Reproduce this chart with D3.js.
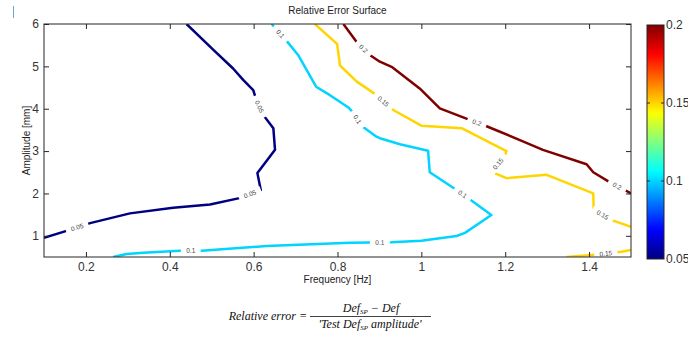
<!DOCTYPE html>
<html>
<head>
<meta charset="utf-8">
<script src="https://cdn.jsdelivr.net/npm/d3@7"></script>
<style>
  body { margin: 0; background: #fff; }
  svg { display: block; font-family: "Liberation Sans", Arial, sans-serif; }
</style>
</head>
<body>
<svg id="chart" width="688" height="338"></svg>
<script>
// Contour levels of the relative error surface
const levels = [0.05, 0.1, 0.15, 0.2];

// Axis ticks
const freqTicks = [0.2, 0.4, 0.6, 0.8, 1.0, 1.2, 1.4];
const ampTicks = [1, 2, 3, 4, 5, 6];
const barTicks = [0.05, 0.1, 0.15, 0.2];

// Contour polylines: [frequency (Hz), amplitude (mm)]
const contour005 = [
  [0.44, 6.0], [0.504, 5.39], [0.551, 4.95], [0.575, 4.68], [0.599, 4.44],
  [0.605, 4.25], [0.623, 3.85], [0.647, 3.54], [0.651, 3.03], [0.609, 2.48],
  [0.617, 2.08], [0.566, 1.89], [0.496, 1.74], [0.408, 1.66], [0.305, 1.53],
  [0.21, 1.30], [0.148, 1.10], [0.1, 0.955]
];
const contour010 = [
  [0.265, 0.5], [0.297, 0.57], [0.337, 0.60], [0.424, 0.648], [0.476, 0.648],
  [0.631, 0.759], [0.83, 0.837], [0.929, 0.847], [1.0, 0.885], [1.084, 0.995],
  [1.104, 1.07], [1.167, 1.49], [1.112, 1.885], [1.084, 2.08], [1.02, 2.5],
  [1.016, 3.01], [0.949, 3.16], [0.905, 3.29], [0.893, 3.34], [0.858, 3.59],
  [0.837, 3.91], [0.826, 4.03], [0.782, 4.32], [0.749, 4.52], [0.706, 5.27],
  [0.682, 5.56], [0.643, 6.0]
];
const contour015Upper = [
  [0.746, 6.0], [0.799, 5.53], [0.806, 5.02], [0.846, 4.64], [0.889, 4.35],
  [0.933, 3.97], [1.0, 3.60], [1.096, 3.54], [1.203, 3.0], [1.199, 2.89],
  [1.167, 2.51], [1.203, 2.36], [1.299, 2.44], [1.41, 2.0], [1.411, 1.61],
  [1.454, 1.37], [1.5, 1.21]
];
const contour015Lower = [
  [1.346, 0.5], [1.406, 0.547], [1.477, 0.625], [1.5, 0.665]
];
const contour020 = [
  [0.814, 6.0], [0.847, 5.56], [0.877, 5.27], [0.901, 5.11], [0.929, 4.99],
  [0.996, 4.48], [1.044, 4.01], [1.109, 3.76], [1.157, 3.58], [1.235, 3.26],
  [1.29, 3.03], [1.394, 2.69], [1.41, 2.5], [1.445, 2.29], [1.489, 2.06],
  [1.5, 2.0]
];

// Inline contour label positions
const labels005 = [[0.614, 4.05], [0.591, 1.99], [0.179, 1.20]];
const labels010 = [[0.45, 0.648], [0.901, 0.84], [1.098, 1.98], [0.848, 3.75], [0.664, 5.77]];
const labels015Upper = [[0.908, 4.16], [1.183, 2.70], [1.432, 1.49]];
const labels015Lower = [[1.44, 0.585]];
const labels020 = [[0.86, 5.40], [1.132, 3.66], [1.466, 2.16]];

const contours = [
  { level: levels[0], points: contour005, labels: labels005 },
  { level: levels[1], points: contour010, labels: labels010 },
  { level: levels[2], points: contour015Upper, labels: labels015Upper },
  { level: levels[2], points: contour015Lower, labels: labels015Lower },
  { level: levels[3], points: contour020, labels: labels020 }
];

const svg = d3.select("#chart");
const plot = { left: 44, right: 631, top: 24, bottom: 257 };
const axisColor = "#262626";
const fmt = d => String(+d.toFixed(3));

const x = d3.scaleLinear().domain([0.1, 1.5]).range([plot.left, plot.right]);
const y = d3.scaleLinear().domain([0.5, 6]).range([plot.bottom, plot.top]);
const cDomain = [0.05, 0.2];

// MATLAB-style jet colormap
function jet(t) {
  const c = v => Math.max(0, Math.min(1, v));
  return d3.rgb(
    Math.round(255 * c(1.5 - Math.abs(4 * t - 3))),
    Math.round(255 * c(1.5 - Math.abs(4 * t - 2))),
    Math.round(255 * c(1.5 - Math.abs(4 * t - 1)))
  ).formatHex();
}
const colorOf = v => jet((v - cDomain[0]) / (cDomain[1] - cDomain[0]));

// Small cursor mark at the top left
svg.append("line")
  .attr("x1", 13.5).attr("x2", 13.5).attr("y1", 6).attr("y2", 18)
  .attr("stroke", "#6aa6e0").attr("stroke-width", 1);

// Title
svg.append("text")
  .attr("x", (plot.left + plot.right) / 2).attr("y", 14)
  .attr("text-anchor", "middle").attr("font-size", 10).attr("fill", "#222")
  .text("Relative Error Surface");

// Clip for the contour area
const defs = svg.append("defs");
defs.append("clipPath").attr("id", "plotClip")
  .append("rect")
  .attr("x", plot.left).attr("y", plot.top)
  .attr("width", plot.right - plot.left).attr("height", plot.bottom - plot.top);

const g = svg.append("g").attr("clip-path", "url(#plotClip)");
const line = d3.line().x(d => x(d[0])).y(d => y(d[1]));

// Nearest point on a polyline (pixel space) and local direction
function project(pts, p) {
  let best = null;
  for (let i = 0; i < pts.length - 1; i++) {
    const ax = x(pts[i][0]), ay = y(pts[i][1]);
    const bx = x(pts[i + 1][0]), by = y(pts[i + 1][1]);
    const dx = bx - ax, dy = by - ay;
    const len2 = dx * dx + dy * dy;
    let t = ((p[0] - ax) * dx + (p[1] - ay) * dy) / len2;
    t = Math.max(0, Math.min(1, t));
    const qx = ax + t * dx, qy = ay + t * dy;
    const d = (qx - p[0]) ** 2 + (qy - p[1]) ** 2;
    if (!best || d < best.d) {
      let ang = Math.atan2(dy, dx) * 180 / Math.PI;
      if (ang > 90) ang -= 180;
      if (ang < -90) ang += 180;
      best = { d, x: qx, y: qy, ang };
    }
  }
  return best;
}

contours.forEach(c => {
  const col = colorOf(c.level);
  g.append("path")
    .attr("d", line(c.points))
    .attr("fill", "none")
    .attr("stroke", col)
    .attr("stroke-width", 2.5)
    .attr("stroke-linejoin", "round");

  c.labels.forEach(lp => {
    const q = project(c.points, [x(lp[0]), y(lp[1])]);
    const lg = g.append("g")
      .attr("transform", `translate(${q.x},${q.y}) rotate(${q.ang})`);
    const txt = fmt(c.level);
    const gap = txt.length * 3.6 + 9;
    lg.append("rect")
      .attr("x", -gap / 2).attr("y", -4)
      .attr("width", gap).attr("height", 8)
      .attr("fill", "#fff");
    lg.append("text")
      .attr("text-anchor", "middle").attr("dy", "0.35em")
      .attr("font-size", 6.5).attr("fill", "#444")
      .text(txt);
  });
});

// Axes (inward ticks on all four sides)
const tickLen = 5;
svg.append("g")
  .attr("transform", `translate(0,${plot.bottom})`)
  .call(d3.axisBottom(x).tickValues(freqTicks).tickFormat(fmt)
    .tickSizeInner(-tickLen).tickSizeOuter(0).tickPadding(5))
  .call(a => a.select(".domain").remove());
svg.append("g")
  .attr("transform", `translate(0,${plot.top})`)
  .call(d3.axisTop(x).tickValues(freqTicks).tickFormat("")
    .tickSizeInner(-tickLen).tickSizeOuter(0))
  .call(a => a.select(".domain").remove());
svg.append("g")
  .attr("transform", `translate(${plot.left},0)`)
  .call(d3.axisLeft(y).tickValues(ampTicks).tickFormat(fmt)
    .tickSizeInner(-tickLen).tickSizeOuter(0).tickPadding(5))
  .call(a => a.select(".domain").remove());
svg.append("g")
  .attr("transform", `translate(${plot.right},0)`)
  .call(d3.axisRight(y).tickValues(ampTicks).tickFormat("")
    .tickSizeInner(-tickLen).tickSizeOuter(0))
  .call(a => a.select(".domain").remove());

svg.selectAll(".tick line").attr("stroke", axisColor);
svg.selectAll(".tick text")
  .attr("font-size", 12).attr("fill", "#333")
  .attr("font-family", "'Liberation Sans', Arial, sans-serif");

svg.append("rect")
  .attr("x", plot.left).attr("y", plot.top)
  .attr("width", plot.right - plot.left).attr("height", plot.bottom - plot.top)
  .attr("fill", "none").attr("stroke", axisColor).attr("stroke-width", 1);

// Axis titles
svg.append("text")
  .attr("x", (plot.left + plot.right) / 2).attr("y", 283)
  .attr("text-anchor", "middle").attr("font-size", 10).attr("fill", "#222")
  .text("Frequency [Hz]");
svg.append("text")
  .attr("transform", `translate(30,${(plot.top + plot.bottom) / 2}) rotate(-90)`)
  .attr("text-anchor", "middle").attr("font-size", 10).attr("fill", "#222")
  .text("Amplitude [mm]");

// Colorbar
const bar = { x: 647, w: 17, top: 25, bottom: 259 };
const cy = d3.scaleLinear().domain(cDomain).range([bar.bottom, bar.top]);
const grad = defs.append("linearGradient").attr("id", "jetGrad")
  .attr("x1", 0).attr("y1", 1).attr("x2", 0).attr("y2", 0);
d3.range(0, 1.0001, 0.02).forEach(t => {
  grad.append("stop").attr("offset", t).attr("stop-color", jet(t));
});
svg.append("rect")
  .attr("x", bar.x).attr("y", bar.top)
  .attr("width", bar.w).attr("height", bar.bottom - bar.top)
  .attr("fill", "url(#jetGrad)")
  .attr("stroke", axisColor).attr("stroke-width", 1);
barTicks.forEach(v => {
  const yy = cy(v);
  if (v > cDomain[0] && v < cDomain[1]) {
    svg.append("line").attr("x1", bar.x).attr("x2", bar.x + 3)
      .attr("y1", yy).attr("y2", yy).attr("stroke", axisColor);
    svg.append("line").attr("x1", bar.x + bar.w - 3).attr("x2", bar.x + bar.w)
      .attr("y1", yy).attr("y2", yy).attr("stroke", axisColor);
  }
  svg.append("text")
    .attr("x", bar.x + bar.w + 2).attr("y", yy).attr("dy", "0.35em")
    .attr("font-size", 12).attr("fill", "#333")
    .text(fmt(v));
});

// Definition of the plotted quantity (serif italic)
const serif = "'Liberation Serif', 'Times New Roman', serif";
const eq = svg.append("g")
  .style("font-family", serif).style("font-style", "italic")
  .attr("font-size", 12).attr("fill", "#111");
eq.append("text").attr("x", 307).attr("y", 320).attr("text-anchor", "end")
  .style("font-family", serif).text("Relative error =");
const num = eq.append("text").attr("x", 371).attr("y", 312).attr("text-anchor", "middle")
  .style("font-family", serif);
num.append("tspan").text("Def");
num.append("tspan").attr("font-size", 7).attr("dy", 2).text("SP");
num.append("tspan").attr("dy", -2).text(" \u2212 Def");
eq.append("line").attr("x1", 310).attr("x2", 431).attr("y1", 316.5).attr("y2", 316.5)
  .attr("stroke", "#111").attr("stroke-width", 0.8);
const den = eq.append("text").attr("x", 370).attr("y", 328).attr("text-anchor", "middle")
  .style("font-family", serif);
den.append("tspan").text("'Test Def");
den.append("tspan").attr("font-size", 7).attr("dy", 2).text("SP");
den.append("tspan").attr("dy", -2).text(" amplitude'");
</script>
</body>
</html>
